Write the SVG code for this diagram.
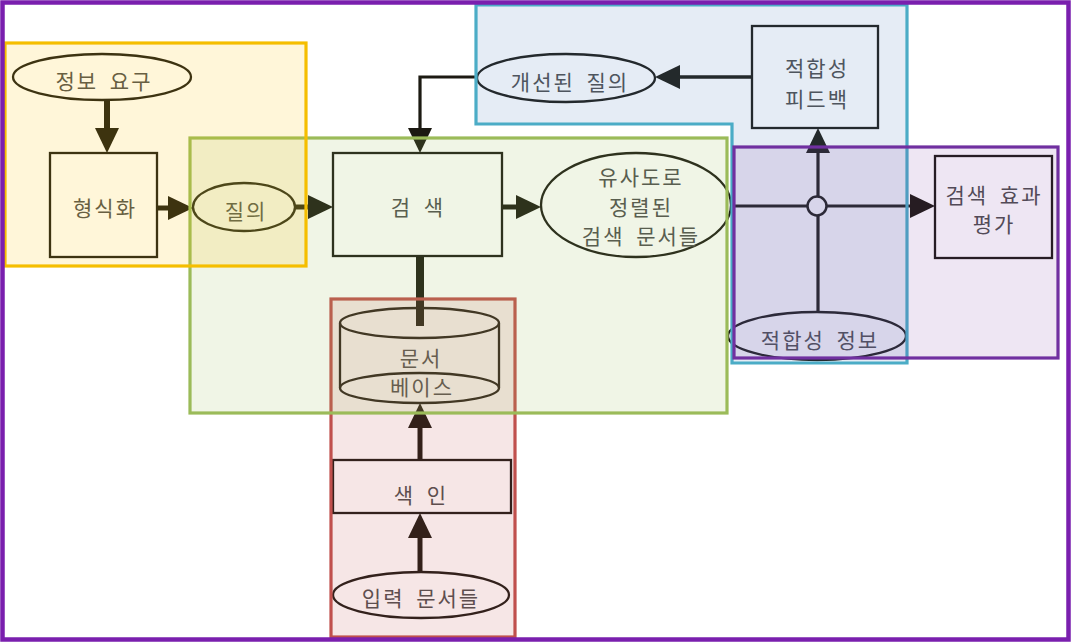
<svg xmlns="http://www.w3.org/2000/svg" width="1071" height="643" viewBox="0 0 1071 643">
<style>
.shape{fill:none;stroke:#1c1a14;stroke-width:2.3}
.lbl{font-family:"Noto Sans CJK KR","Noto Sans",sans-serif;font-size:21px;fill:#4e4e4e;letter-spacing:2px;word-spacing:5px;text-anchor:middle;dominant-baseline:central}
.con{fill:none;stroke:#1c1a12;stroke-linecap:butt;stroke-linejoin:miter}
.hl{stroke-width:3.2}
</style>
<defs>
<marker id="ah" viewBox="0 0 25 24" refX="0" refY="12" markerWidth="25" markerHeight="24" markerUnits="userSpaceOnUse" orient="auto">
<path d="M0,0 L25,12 L0,24 z" fill="#1c1a12"/>
</marker>
</defs>
<rect x="0" y="0" width="1071" height="643" fill="#ffffff"/>

<g id="connectors">
<path class="con" d="M107,100 V128" stroke-width="6" marker-end="url(#ah)"/>
<path class="con" d="M157,208 H168" stroke-width="5" marker-end="url(#ah)"/>
<path class="con" d="M295,207 H308" stroke-width="5" marker-end="url(#ah)"/>
<path class="con" d="M502,207 H516" stroke-width="5" marker-end="url(#ah)"/>
<path class="con" d="M731,206 H910" stroke-width="3.2" marker-end="url(#ah)"/>
<path class="con" d="M818,312 V153" stroke-width="3.2" marker-end="url(#ah)"/>
<path class="con" d="M752,77 H680" stroke-width="3.5" marker-end="url(#ah)"/>
<path class="con" d="M477,77 H420 V128" stroke-width="3.2" marker-end="url(#ah)"/>
<path class="con" d="M420,256 V326" stroke-width="8"/>
<path class="con" d="M420,460 V428" stroke-width="5" marker-end="url(#ah)"/>
<path class="con" d="M420,571 V538" stroke-width="5" marker-end="url(#ah)"/>
<circle cx="817" cy="206" r="9.5" fill="#ffffff" stroke="#1c1a12" stroke-width="2.5"/>
</g>

<g id="info-need">
<ellipse class="shape" cx="102" cy="77" rx="89" ry="23"/>
<text class="lbl" x="104" y="80">정보 요구</text>
</g>
<g id="formalize">
<rect class="shape" x="50" y="153" width="107" height="104"/>
<text class="lbl" x="105" y="207">형식화</text>
</g>
<g id="query">
<ellipse class="shape" cx="244" cy="207" rx="51" ry="24"/>
<text class="lbl" x="246" y="210">질의</text>
</g>
<g id="search">
<rect class="shape" x="333" y="153" width="169" height="103"/>
<text class="lbl" x="418" y="206">검 색</text>
</g>
<g id="ranked-docs">
<ellipse class="shape" cx="636" cy="205" rx="95" ry="52"/>
<text class="lbl" x="641" y="176">유사도로</text>
<text class="lbl" x="641" y="206">정렬된</text>
<text class="lbl" x="641" y="235">검색 문서들</text>
</g>
<g id="doc-base">
<ellipse class="shape" cx="419.5" cy="323" rx="79.5" ry="15"/>
<path class="shape" d="M340,323 V388 M499,323 V388"/>
<ellipse class="shape" cx="419.5" cy="388" rx="79.5" ry="15"/>
<text class="lbl" x="421" y="357">문서</text>
<text class="lbl" x="422" y="386">베이스</text>
</g>
<g id="indexing">
<rect class="shape" x="333" y="460" width="178" height="53"/>
<text class="lbl" x="421" y="494">색 인</text>
</g>
<g id="input-docs">
<ellipse class="shape" cx="421" cy="595" rx="88" ry="23"/>
<text class="lbl" x="421" y="597">입력 문서들</text>
</g>
<g id="refined-query">
<ellipse class="shape" cx="566" cy="78" rx="89" ry="24"/>
<text class="lbl" x="570" y="81">개선된 질의</text>
</g>
<g id="relevance-feedback">
<rect class="shape" x="752" y="26" width="126" height="102"/>
<text class="lbl" x="817" y="67">적합성</text>
<text class="lbl" x="817" y="98">피드백</text>
</g>
<g id="relevance-info">
<ellipse class="shape" cx="817" cy="336" rx="89" ry="24"/>
<text class="lbl" x="820" y="339">적합성 정보</text>
</g>
<g id="evaluation">
<rect class="shape" x="935" y="156" width="117" height="102"/>
<text class="lbl" x="994" y="194">검색 효과</text>
<text class="lbl" x="994" y="223">평가</text>
</g>

<g id="highlights">
<rect class="hl" x="331" y="299" width="184" height="338" fill="rgba(192,80,77,0.14)" stroke="#C0504D"/>
<rect class="hl" x="190" y="138" width="537" height="275" fill="rgba(155,187,89,0.15)" stroke="#9BBB59"/>
<rect class="hl" x="5" y="43" width="301" height="223" fill="rgba(255,192,0,0.15)" stroke="#F5BE00" stroke-width="3.6"/>
<path class="hl" d="M476,5 H907 V363 H732 V124 H476 Z" fill="rgba(79,129,189,0.15)" stroke="#4BACC6"/>
<rect class="hl" x="734" y="147" width="324" height="211" fill="rgba(112,48,160,0.12)" stroke="#7030A0"/>
<rect x="2.5" y="2.5" width="1066" height="637" fill="none" stroke="#7A1FAE" stroke-width="4.5"/>
</g>
</svg>
